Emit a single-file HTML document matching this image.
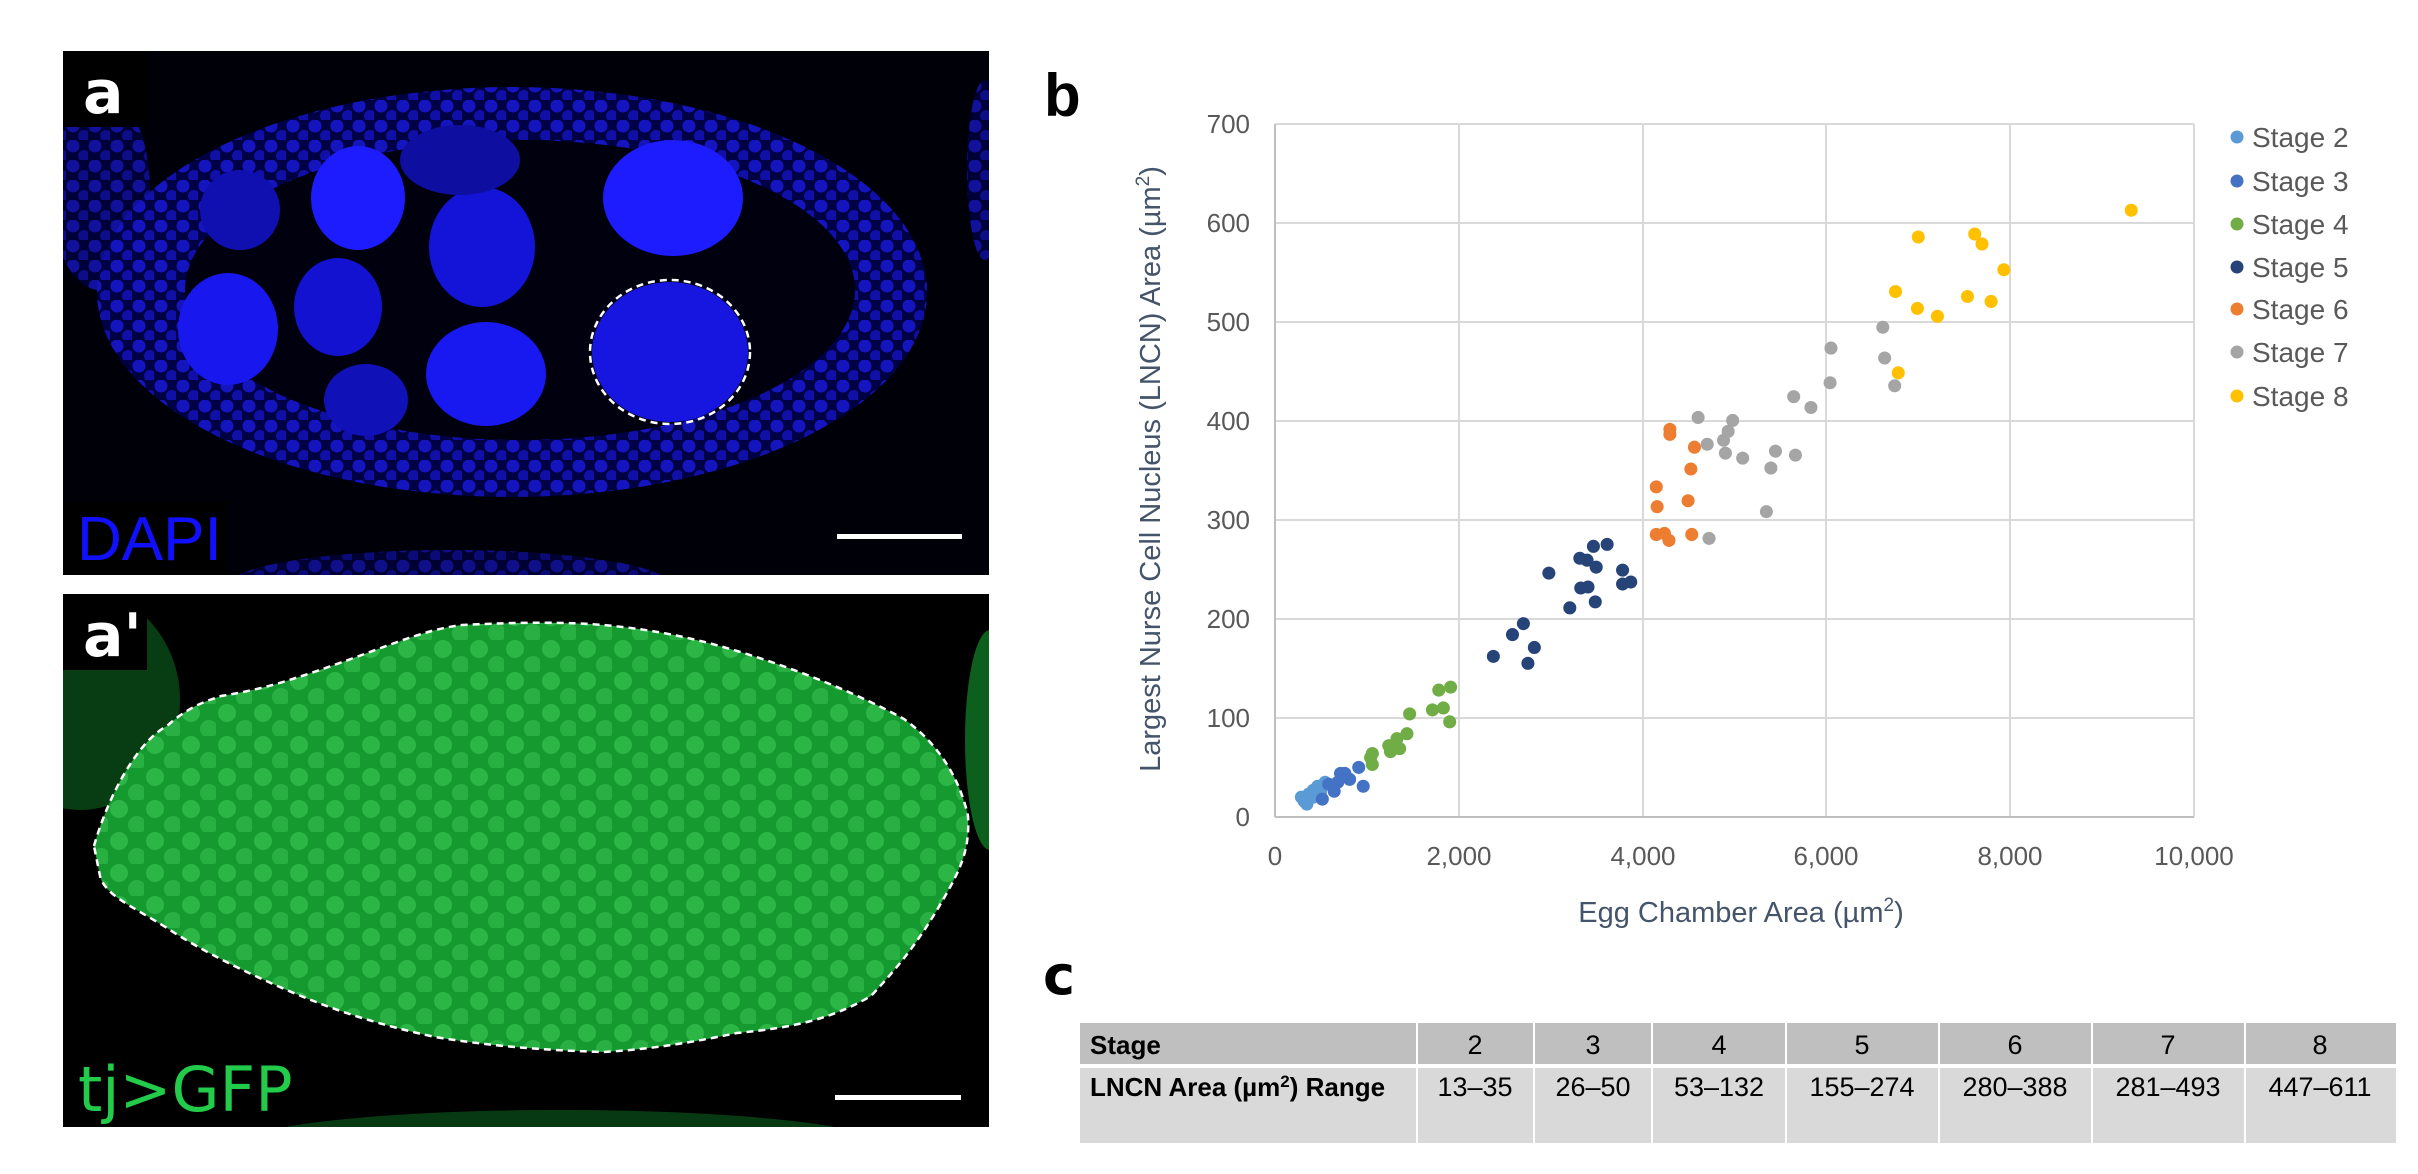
<!DOCTYPE html>
<html><head><meta charset="utf-8"><style>
html,body{margin:0;padding:0;background:#fff;}
svg{display:block;}
</style></head><body>
<svg width="2418" height="1174" viewBox="0 0 2418 1174" xmlns="http://www.w3.org/2000/svg" font-family="Liberation Sans, Arial, sans-serif">
<defs>
<pattern id="gdots" width="36" height="32" patternUnits="userSpaceOnUse">
<rect width="36" height="32" fill="#159a30"/>
<circle cx="11" cy="9" r="9" fill="#2cb646"/>
<circle cx="29" cy="25" r="9" fill="#29b043"/>
</pattern>
<pattern id="bdots" width="22" height="20" patternUnits="userSpaceOnUse">
<rect width="22" height="20" fill="#000044"/>
<circle cx="7" cy="6" r="6.5" fill="#1515c0"/>
<circle cx="18" cy="16" r="6" fill="#1010a8"/>
</pattern>
<clipPath id="ca"><rect x="63" y="51" width="926" height="524"/></clipPath>
<clipPath id="cb"><rect x="63" y="594" width="926" height="533"/></clipPath>
</defs>

<!-- Panel a -->
<rect x="63" y="51" width="926" height="524" fill="#000008"/>
<g clip-path="url(#ca)">
<ellipse cx="512" cy="292" rx="415" ry="205" fill="url(#bdots)"/>
<ellipse cx="520" cy="290" rx="335" ry="150" fill="#00000e"/>
<ellipse cx="358" cy="198" rx="47" ry="52" fill="#1c1cff"/>
<ellipse cx="482" cy="247" rx="53" ry="60" fill="#1414d8"/>
<ellipse cx="673" cy="198" rx="70" ry="58" fill="#1c1cff"/>
<ellipse cx="228" cy="329" rx="50" ry="56" fill="#1818ee"/>
<ellipse cx="338" cy="307" rx="44" ry="49" fill="#1212d0"/>
<ellipse cx="486" cy="374" rx="60" ry="52" fill="#1818f0"/>
<ellipse cx="366" cy="400" rx="42" ry="36" fill="#1111b8"/>
<ellipse cx="240" cy="210" rx="40" ry="40" fill="#1010b0"/>
<ellipse cx="460" cy="160" rx="60" ry="35" fill="#0e0ea0"/>
<ellipse cx="670" cy="352" rx="78" ry="70" fill="#1616e0"/>
<ellipse cx="670" cy="352" rx="80" ry="72" fill="none" stroke="#fff" stroke-width="2.5" stroke-dasharray="7 5"/>
<ellipse cx="100" cy="190" rx="50" ry="100" fill="url(#bdots)" opacity="0.8"/>
<ellipse cx="985" cy="170" rx="18" ry="90" fill="url(#bdots)" opacity="0.8"/>
<ellipse cx="450" cy="585" rx="220" ry="35" fill="url(#bdots)" opacity="0.7"/>
</g>
<rect x="63" y="51" width="84" height="76" fill="#000"/>
<text x="83" y="113" font-size="60" font-weight="bold" fill="#fff" font-family="DejaVu Sans, sans-serif">a</text>
<rect x="63" y="501" width="165" height="74" fill="#000"/>
<text x="77" y="560" font-size="62" fill="#1010ff">DAPI</text>
<rect x="837" y="534" width="125" height="5" fill="#fff"/>

<!-- Panel a' -->
<rect x="63" y="594" width="926" height="533" fill="#000"/>
<g clip-path="url(#cb)">
<ellipse cx="80" cy="700" rx="100" ry="110" fill="#083d13"/>
<ellipse cx="990" cy="740" rx="25" ry="110" fill="#0d5f1e"/>
<ellipse cx="560" cy="1145" rx="320" ry="35" fill="#073a12"/>
<path d="M94,846 C110,790 140,740 167,726 C190,705 210,700 221,696 C260,690 290,680 308,674 C380,650 420,630 462,625 C520,622 570,622 603,625 C660,630 700,640 737,651 C800,670 860,695 904,719 C940,745 960,780 968,816 C970,850 960,870 944,898 C920,940 900,965 871,996 C830,1020 790,1028 737,1033 C680,1045 640,1050 603,1052 C540,1050 490,1046 435,1037 C380,1025 340,1012 301,996 C250,975 200,950 167,928 C130,905 105,895 100,876 Z" fill="url(#gdots)" stroke="#fff" stroke-width="2.5" stroke-dasharray="7 5"/>
</g>
<rect x="63" y="594" width="84" height="76" fill="#000"/>
<text x="83" y="656" font-size="60" font-weight="bold" fill="#fff" font-family="DejaVu Sans, sans-serif">a'</text>
<rect x="63" y="1055" width="225" height="72" fill="#000"/>
<text x="78" y="1111" font-size="62" fill="#22cc4a" font-family="DejaVu Sans, sans-serif">tj&gt;GFP</text>
<rect x="835" y="1095" width="126" height="5" fill="#fff"/>

<!-- Panel b -->
<text x="1044" y="116" font-size="60" font-weight="bold" fill="#000">b</text>
<g stroke="#d9d9d9" stroke-width="2">
<line x1="1275" y1="124" x2="2194" y2="124"/>
<line x1="1275" y1="223" x2="2194" y2="223"/>
<line x1="1275" y1="322" x2="2194" y2="322"/>
<line x1="1275" y1="421" x2="2194" y2="421"/>
<line x1="1275" y1="520" x2="2194" y2="520"/>
<line x1="1275" y1="619" x2="2194" y2="619"/>
<line x1="1275" y1="718" x2="2194" y2="718"/>
<line x1="1459" y1="124" x2="1459" y2="817"/>
<line x1="1643" y1="124" x2="1643" y2="817"/>
<line x1="1826" y1="124" x2="1826" y2="817"/>
<line x1="2010" y1="124" x2="2010" y2="817"/>
<line x1="2194" y1="124" x2="2194" y2="817"/>
</g>
<line x1="1275" y1="124" x2="1275" y2="817" stroke="#bfbfbf" stroke-width="2"/>
<line x1="1275" y1="817" x2="2194" y2="817" stroke="#bfbfbf" stroke-width="2"/>
<g font-size="26" fill="#595959" text-anchor="end">
<text x="1250" y="133">700</text>
<text x="1250" y="232">600</text>
<text x="1250" y="331">500</text>
<text x="1250" y="430">400</text>
<text x="1250" y="529">300</text>
<text x="1250" y="628">200</text>
<text x="1250" y="727">100</text>
<text x="1250" y="826">0</text>
</g>
<g font-size="26" fill="#595959" text-anchor="middle">
<text x="1275" y="865">0</text>
<text x="1459" y="865">2,000</text>
<text x="1643" y="865">4,000</text>
<text x="1826" y="865">6,000</text>
<text x="2010" y="865">8,000</text>
<text x="2194" y="865">10,000</text>
</g>
<text x="1741" y="922" font-size="29" fill="#44546a" text-anchor="middle">Egg Chamber Area (µm<tspan font-size="19" dy="-11">2</tspan><tspan dy="11">)</tspan></text>
<text transform="translate(1160,469) rotate(-90)" font-size="29" fill="#44546a" text-anchor="middle">Largest Nurse Cell Nucleus (LNCN) Area (µm<tspan font-size="19" dy="-11">2</tspan><tspan dy="11">)</tspan></text>

<g transform="translate(1275,817) scale(0.0919,-0.9914)">
<g fill="#5b9bd5">
<ellipse cx="317" cy="16" rx="71" ry="6.6"/><ellipse cx="366" cy="23" rx="71" ry="6.6"/><ellipse cx="416" cy="27" rx="71" ry="6.6"/><ellipse cx="465" cy="31" rx="71" ry="6.6"/><ellipse cx="545" cy="35" rx="71" ry="6.6"/><ellipse cx="347" cy="13" rx="71" ry="6.6"/><ellipse cx="416" cy="20" rx="71" ry="6.6"/><ellipse cx="495" cy="25" rx="71" ry="6.6"/><ellipse cx="287" cy="20" rx="71" ry="6.6"/>
</g>
<g fill="#4472c4">
<ellipse cx="911" cy="50" rx="71" ry="6.6"/><ellipse cx="960" cy="31" rx="71" ry="6.6"/><ellipse cx="713" cy="44" rx="71" ry="6.6"/><ellipse cx="644" cy="26" rx="71" ry="6.6"/><ellipse cx="683" cy="35" rx="71" ry="6.6"/><ellipse cx="584" cy="33" rx="71" ry="6.6"/><ellipse cx="812" cy="38" rx="71" ry="6.6"/><ellipse cx="515" cy="18" rx="71" ry="6.6"/><ellipse cx="760" cy="44" rx="71" ry="6.6"/>
</g>
<g fill="#70ad47">
<ellipse cx="1911" cy="131" rx="71" ry="6.6"/><ellipse cx="1782" cy="128" rx="71" ry="6.6"/><ellipse cx="1832" cy="110" rx="71" ry="6.6"/><ellipse cx="1713" cy="108" rx="71" ry="6.6"/><ellipse cx="1901" cy="96" rx="71" ry="6.6"/><ellipse cx="1465" cy="104" rx="71" ry="6.6"/><ellipse cx="1436" cy="84" rx="71" ry="6.6"/><ellipse cx="1327" cy="79" rx="71" ry="6.6"/><ellipse cx="1238" cy="72" rx="71" ry="6.6"/><ellipse cx="1257" cy="66" rx="71" ry="6.6"/><ellipse cx="1356" cy="69" rx="71" ry="6.6"/><ellipse cx="1059" cy="64" rx="71" ry="6.6"/><ellipse cx="1040" cy="60" rx="71" ry="6.6"/><ellipse cx="1059" cy="53" rx="71" ry="6.6"/>
</g>
<g fill="#264478">
<ellipse cx="3614" cy="275" rx="71" ry="6.6"/><ellipse cx="3465" cy="273" rx="71" ry="6.6"/><ellipse cx="3317" cy="261" rx="71" ry="6.6"/><ellipse cx="3396" cy="259" rx="71" ry="6.6"/><ellipse cx="3495" cy="252" rx="71" ry="6.6"/><ellipse cx="2980" cy="246" rx="71" ry="6.6"/><ellipse cx="3782" cy="249" rx="71" ry="6.6"/><ellipse cx="3327" cy="231" rx="71" ry="6.6"/><ellipse cx="3406" cy="232" rx="71" ry="6.6"/><ellipse cx="3782" cy="235" rx="71" ry="6.6"/><ellipse cx="3871" cy="237" rx="71" ry="6.6"/><ellipse cx="3485" cy="217" rx="71" ry="6.6"/><ellipse cx="3208" cy="211" rx="71" ry="6.6"/><ellipse cx="2703" cy="195" rx="71" ry="6.6"/><ellipse cx="2584" cy="184" rx="71" ry="6.6"/><ellipse cx="2822" cy="171" rx="71" ry="6.6"/><ellipse cx="2376" cy="162" rx="71" ry="6.6"/><ellipse cx="2752" cy="155" rx="71" ry="6.6"/>
</g>
<g fill="#ed7d31">
<ellipse cx="4297" cy="391" rx="71" ry="6.6"/><ellipse cx="4297" cy="386" rx="71" ry="6.6"/><ellipse cx="4564" cy="373" rx="71" ry="6.6"/><ellipse cx="4525" cy="351" rx="71" ry="6.6"/><ellipse cx="4149" cy="333" rx="71" ry="6.6"/><ellipse cx="4158" cy="313" rx="71" ry="6.6"/><ellipse cx="4495" cy="319" rx="71" ry="6.6"/><ellipse cx="4149" cy="285" rx="71" ry="6.6"/><ellipse cx="4238" cy="286" rx="71" ry="6.6"/><ellipse cx="4287" cy="279" rx="71" ry="6.6"/><ellipse cx="4535" cy="285" rx="71" ry="6.6"/>
</g>
<g fill="#a5a5a5">
<ellipse cx="6614" cy="494" rx="71" ry="6.6"/><ellipse cx="6050" cy="473" rx="71" ry="6.6"/><ellipse cx="6634" cy="463" rx="71" ry="6.6"/><ellipse cx="6040" cy="438" rx="71" ry="6.6"/><ellipse cx="6743" cy="435" rx="71" ry="6.6"/><ellipse cx="5644" cy="424" rx="71" ry="6.6"/><ellipse cx="5832" cy="413" rx="71" ry="6.6"/><ellipse cx="4604" cy="403" rx="71" ry="6.6"/><ellipse cx="4980" cy="400" rx="71" ry="6.6"/><ellipse cx="4931" cy="389" rx="71" ry="6.6"/><ellipse cx="4881" cy="380" rx="71" ry="6.6"/><ellipse cx="4703" cy="376" rx="71" ry="6.6"/><ellipse cx="4901" cy="367" rx="71" ry="6.6"/><ellipse cx="5089" cy="362" rx="71" ry="6.6"/><ellipse cx="5446" cy="369" rx="71" ry="6.6"/><ellipse cx="5663" cy="365" rx="71" ry="6.6"/><ellipse cx="5396" cy="352" rx="71" ry="6.6"/><ellipse cx="5347" cy="308" rx="71" ry="6.6"/><ellipse cx="4723" cy="281" rx="71" ry="6.6"/>
</g>
<g fill="#ffc000">
<ellipse cx="9317" cy="612" rx="71" ry="6.6"/><ellipse cx="7000" cy="585" rx="71" ry="6.6"/><ellipse cx="7614" cy="588" rx="71" ry="6.6"/><ellipse cx="7693" cy="578" rx="71" ry="6.6"/><ellipse cx="7931" cy="552" rx="71" ry="6.6"/><ellipse cx="6752" cy="530" rx="71" ry="6.6"/><ellipse cx="6990" cy="513" rx="71" ry="6.6"/><ellipse cx="7208" cy="505" rx="71" ry="6.6"/><ellipse cx="7535" cy="525" rx="71" ry="6.6"/><ellipse cx="7792" cy="520" rx="71" ry="6.6"/><ellipse cx="6782" cy="448" rx="71" ry="6.6"/>
</g>
</g>

<!-- legend -->
<g font-size="28" fill="#595959">
<circle cx="2237" cy="137" r="6.5" fill="#5b9bd5"/><text x="2252" y="147">Stage 2</text>
<circle cx="2237" cy="181" r="6.5" fill="#4472c4"/><text x="2252" y="191">Stage 3</text>
<circle cx="2237" cy="224" r="6.5" fill="#70ad47"/><text x="2252" y="234">Stage 4</text>
<circle cx="2237" cy="267" r="6.5" fill="#264478"/><text x="2252" y="277">Stage 5</text>
<circle cx="2237" cy="309" r="6.5" fill="#ed7d31"/><text x="2252" y="319">Stage 6</text>
<circle cx="2237" cy="352" r="6.5" fill="#a5a5a5"/><text x="2252" y="362">Stage 7</text>
<circle cx="2237" cy="396" r="6.5" fill="#ffc000"/><text x="2252" y="406">Stage 8</text>
</g>

<!-- Panel c -->
<text x="1043" y="994" font-size="54" font-weight="bold" fill="#000" font-family="DejaVu Sans, sans-serif">c</text>
<rect x="1080" y="1023" width="1316" height="41" fill="#bfbfbf"/>
<rect x="1080" y="1068" width="1316" height="75" fill="#d9d9d9"/>
<g stroke="#fff" stroke-width="2">
<line x1="1417" y1="1023" x2="1417" y2="1143"/><line x1="1534" y1="1023" x2="1534" y2="1143"/><line x1="1652" y1="1023" x2="1652" y2="1143"/><line x1="1786" y1="1023" x2="1786" y2="1143"/><line x1="1939" y1="1023" x2="1939" y2="1143"/><line x1="2092" y1="1023" x2="2092" y2="1143"/><line x1="2245" y1="1023" x2="2245" y2="1143"/>
</g>
<g font-size="26" fill="#000">
<text x="1090" y="1054" font-weight="bold">Stage</text>
<text x="1090" y="1096" font-weight="bold">LNCN Area (µm<tspan font-size="17" dy="-9">2</tspan><tspan dy="9">) Range</tspan></text>
</g>
<g font-size="27" fill="#000" text-anchor="middle">
<text x="1475" y="1054">2</text><text x="1593" y="1054">3</text><text x="1719" y="1054">4</text><text x="1862" y="1054">5</text><text x="2015" y="1054">6</text><text x="2168" y="1054">7</text><text x="2320" y="1054">8</text>
<text x="1475" y="1096">13–35</text><text x="1593" y="1096">26–50</text><text x="1719" y="1096">53–132</text><text x="1862" y="1096">155–274</text><text x="2015" y="1096">280–388</text><text x="2168" y="1096">281–493</text><text x="2320" y="1096">447–611</text>
</g>
</svg>
</body></html>
